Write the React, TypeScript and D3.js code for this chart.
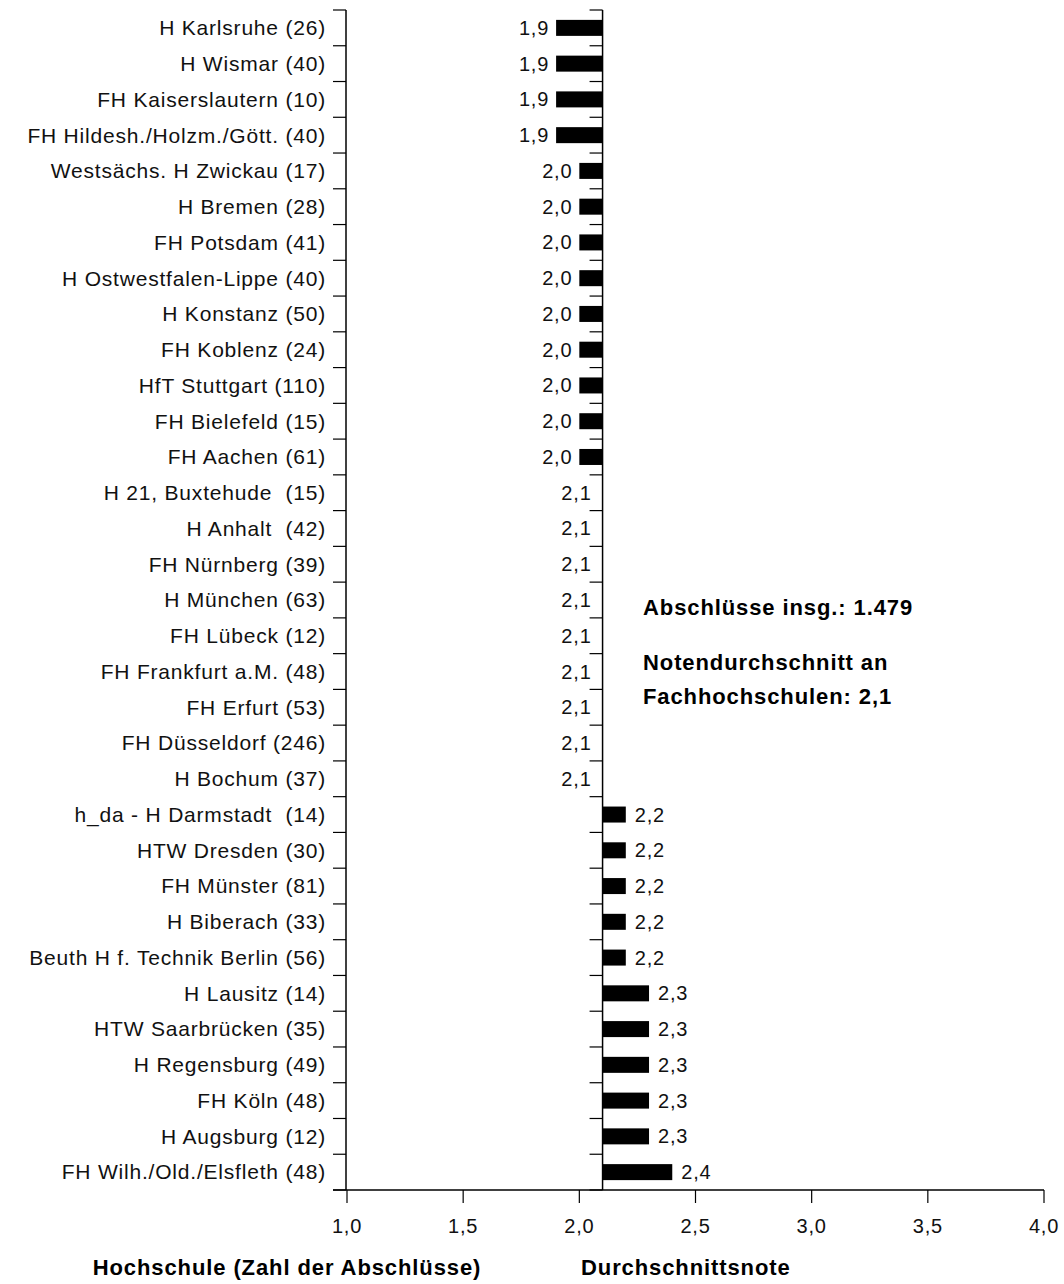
import { useRef, useEffect } from 'react';
import * as d3 from 'd3';

const schools = [
  'H Karlsruhe (26)',
  'H Wismar (40)',
  'FH Kaiserslautern (10)',
  'FH Hildesh./Holzm./Gött. (40)',
  'Westsächs. H Zwickau (17)',
  'H Bremen (28)',
  'FH Potsdam (41)',
  'H Ostwestfalen-Lippe (40)',
  'H Konstanz (50)',
  'FH Koblenz (24)',
  'HfT Stuttgart (110)',
  'FH Bielefeld (15)',
  'FH Aachen (61)',
  'H 21, Buxtehude  (15)',
  'H Anhalt  (42)',
  'FH Nürnberg (39)',
  'H München (63)',
  'FH Lübeck (12)',
  'FH Frankfurt a.M. (48)',
  'FH Erfurt (53)',
  'FH Düsseldorf (246)',
  'H Bochum (37)',
  'h_da - H Darmstadt  (14)',
  'HTW Dresden (30)',
  'FH Münster (81)',
  'H Biberach (33)',
  'Beuth H f. Technik Berlin (56)',
  'H Lausitz (14)',
  'HTW Saarbrücken (35)',
  'H Regensburg (49)',
  'FH Köln (48)',
  'H Augsburg (12)',
  'FH Wilh./Old./Elsfleth (48)',
];

const grades = [
  1.9, 1.9, 1.9, 1.9,
  2.0, 2.0, 2.0, 2.0, 2.0, 2.0, 2.0, 2.0, 2.0,
  2.1, 2.1, 2.1, 2.1, 2.1, 2.1, 2.1, 2.1, 2.1,
  2.2, 2.2, 2.2, 2.2, 2.2,
  2.3, 2.3, 2.3, 2.3, 2.3,
  2.4,
];

const average = 2.1;
const xTicks = [1.0, 1.5, 2.0, 2.5, 3.0, 3.5, 4.0];
const fmt = (v: number) => v.toFixed(1).replace('.', ',');

export default function App() {
  const svgRef = useRef<SVGSVGElement>(null);

  useEffect(() => {
    if (!svgRef.current) return;
    const svg = d3.select(svgRef.current);
    svg.selectAll('*').remove();

    const font = '"Liberation Sans", Arial, sans-serif';
    const left = 346;
    const top = 10;
    const bottom = 1190;

    const x = d3.scaleLinear().domain([1, 4]).range([347, 1044]);
    const y = d3
      .scaleBand<number>()
      .domain(d3.range(schools.length))
      .range([top, bottom]);

    const g = svg.append('g');

    const label = (sel: any, size = 21, spacing = 0.8) =>
      sel
        .style('font-family', font)
        .style('font-size', `${size}px`)
        .style('letter-spacing', `${spacing}px`)
        .attr('fill', '#111');

    // bars
    const barH = 16;
    g.selectAll('rect.bar')
      .data(grades)
      .enter()
      .append('rect')
      .attr('class', 'bar')
      .attr('x', (d) => x(Math.min(d, average)))
      .attr('y', (_, i) => (y(i) || 0) + y.bandwidth() / 2 - barH / 2)
      .attr('width', (d) => Math.abs(x(d) - x(average)))
      .attr('height', barH)
      .attr('fill', '#000');

    // value labels
    g.selectAll('text.val')
      .data(grades)
      .enter()
      .append('text')
      .attr('class', 'val')
      .attr('x', (d) =>
        d < average ? x(d) - 7 : d === average ? x(average) - 11 : x(d) + 9
      )
      .attr('y', (_, i) => (y(i) || 0) + y.bandwidth() / 2)
      .attr('dy', '0.35em')
      .attr('text-anchor', (d) => (d <= average ? 'end' : 'start'))
      .call((s: any) => label(s, 20, 0.8))
      .text((d) => fmt(d));

    const bounds = d3.range(schools.length + 1).map((i) => top + i * y.bandwidth());

    // category axis (left)
    const yAxis = g.append('g').attr('transform', `translate(${left},0)`);
    yAxis
      .append('line')
      .attr('y1', top)
      .attr('y2', bottom)
      .attr('stroke', '#000')
      .attr('stroke-width', 1.5);
    yAxis
      .selectAll('line.tk')
      .data(bounds)
      .enter()
      .append('line')
      .attr('class', 'tk')
      .attr('x1', -13)
      .attr('x2', 0)
      .attr('y1', (d) => d)
      .attr('y2', (d) => d)
      .attr('stroke', '#000')
      .attr('stroke-width', 1.2);
    yAxis
      .selectAll('text')
      .data(schools)
      .enter()
      .append('text')
      .attr('x', -20)
      .attr('y', (_, i) => (y(i) || 0) + y.bandwidth() / 2)
      .attr('dy', '0.35em')
      .attr('text-anchor', 'end')
      .style('white-space', 'pre')
      .call((s: any) => label(s))
      .text((d) => d);

    // average line with its own ticks
    const avg = g.append('g').attr('transform', `translate(${x(average)},0)`);
    avg
      .append('line')
      .attr('y1', top)
      .attr('y2', bottom)
      .attr('stroke', '#000')
      .attr('stroke-width', 1.5);
    avg
      .selectAll('line.tk')
      .data(bounds)
      .enter()
      .append('line')
      .attr('class', 'tk')
      .attr('x1', -13)
      .attr('x2', 0)
      .attr('y1', (d) => d)
      .attr('y2', (d) => d)
      .attr('stroke', '#000')
      .attr('stroke-width', 1.2);

    // x axis
    const xAxis = g.append('g').attr('transform', `translate(0,${bottom})`);
    xAxis
      .append('line')
      .attr('x1', left - 13)
      .attr('x2', x(4))
      .attr('stroke', '#000')
      .attr('stroke-width', 1.5);
    xAxis
      .selectAll('line.tk')
      .data(xTicks)
      .enter()
      .append('line')
      .attr('class', 'tk')
      .attr('x1', (d) => x(d))
      .attr('x2', (d) => x(d))
      .attr('y1', 0)
      .attr('y2', 13)
      .attr('stroke', '#000')
      .attr('stroke-width', 1.2);
    xAxis
      .selectAll('text')
      .data(xTicks)
      .enter()
      .append('text')
      .attr('x', (d) => x(d))
      .attr('y', 43)
      .attr('text-anchor', 'middle')
      .call((s: any) => label(s, 20, 0.8))
      .text((d) => fmt(d));

    // titles
    const bold = (t: string, px: number, py: number, anchor = 'start') =>
      g
        .append('text')
        .attr('x', px)
        .attr('y', py)
        .attr('text-anchor', anchor)
        .style('font-family', font)
        .style('font-size', '22px')
        .style('font-weight', 'bold')
        .style('letter-spacing', '0.9px')
        .attr('fill', '#000')
        .text(t);
    bold('Hochschule (Zahl der Abschlüsse)', 287, 1275, 'middle');
    bold('Durchschnittsnote', 581, 1275);
    bold('Abschlüsse insg.: 1.479', 643, 615);
    bold('Notendurchschnitt an', 643, 670);
    bold('Fachhochschulen: 2,1', 643, 704);
  }, []);

  return (
    <svg
      ref={svgRef}
      width={1064}
      height={1284}
      style={{ position: 'absolute', left: 0, top: 0, display: 'block', overflow: 'visible' }}
    />
  );
}
